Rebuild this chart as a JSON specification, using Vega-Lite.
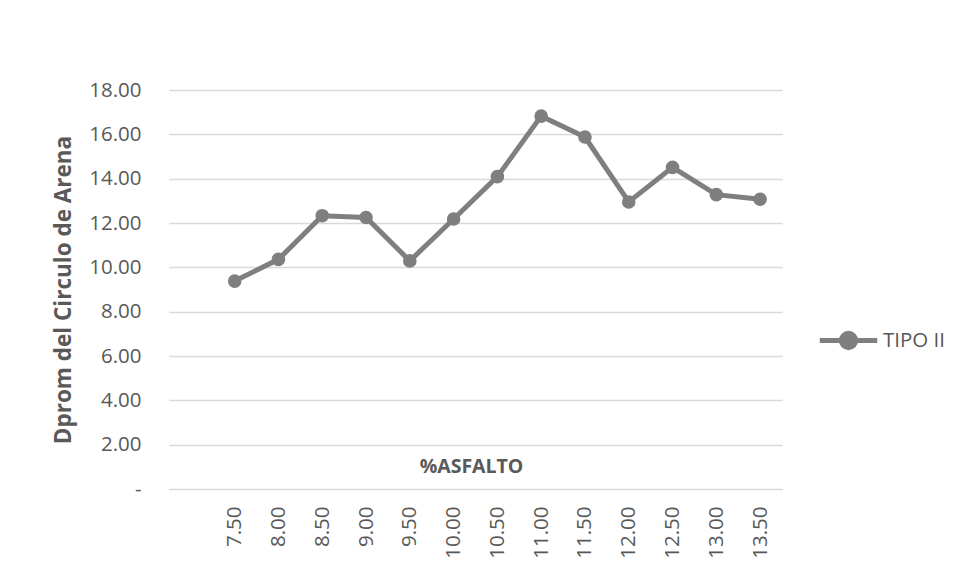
{
  "$schema": "https://vega.github.io/schema/vega-lite/v6.json",
  "width": 613,
  "height": 399,
  "autosize": {"type": "none"},
  "padding": {"left": 169, "top": 90, "right": 174, "bottom": 94},
  "background": "white",
  "config": {"view": {"stroke": null}, "font": "Open Sans"},
  "data": {
    "values": [
      {"asfalto": 7.5, "dprom": 9.38, "serie": "TIPO II"},
      {"asfalto": 8.0, "dprom": 10.36, "serie": "TIPO II"},
      {"asfalto": 8.5, "dprom": 12.33, "serie": "TIPO II"},
      {"asfalto": 9.0, "dprom": 12.25, "serie": "TIPO II"},
      {"asfalto": 9.5, "dprom": 10.29, "serie": "TIPO II"},
      {"asfalto": 10.0, "dprom": 12.18, "serie": "TIPO II"},
      {"asfalto": 10.5, "dprom": 14.09, "serie": "TIPO II"},
      {"asfalto": 11.0, "dprom": 16.82, "serie": "TIPO II"},
      {"asfalto": 11.5, "dprom": 15.88, "serie": "TIPO II"},
      {"asfalto": 12.0, "dprom": 12.95, "serie": "TIPO II"},
      {"asfalto": 12.5, "dprom": 14.51, "serie": "TIPO II"},
      {"asfalto": 13.0, "dprom": 13.28, "serie": "TIPO II"},
      {"asfalto": 13.5, "dprom": 13.07, "serie": "TIPO II"}
    ]
  },
  "mark": {
    "type": "line",
    "strokeWidth": 5,
    "point": {"filled": true, "size": 185, "opacity": 1}
  },
  "encoding": {
    "x": {
      "field": "asfalto",
      "type": "quantitative",
      "scale": {"domain": [6.75, 13.75], "nice": false, "zero": false},
      "axis": {
        "values": [7.5, 8, 8.5, 9, 9.5, 10, 10.5, 11, 11.5, 12, 12.5, 13, 13.5],
        "format": ".2f",
        "labelAngle": 270,
        "labelAlign": "right",
        "labelBaseline": "middle",
        "labelPadding": 17,
        "labelFontSize": 20.5,
        "labelColor": "#595959",
        "grid": false,
        "ticks": false,
        "domain": false,
        "title": "%ASFALTO",
        "titleFontSize": 19.5,
        "titleFontWeight": "bold",
        "titleColor": "#595959",
        "titleBaseline": "middle",
        "titleY": -23,
        "titleX": 302
      }
    },
    "y": {
      "field": "dprom",
      "type": "quantitative",
      "scale": {"domain": [0, 18], "nice": false},
      "axis": {
        "values": [0, 2, 4, 6, 8, 10, 12, 14, 16, 18],
        "labelExpr": "datum.value == 0 ? '-' : format(datum.value, '.2f')",
        "labelFontSize": 20.5,
        "labelColor": "#595959",
        "labelPadding": 28,
        "ticks": false,
        "domain": false,
        "gridColor": "#d9d9d9",
        "gridWidth": 1.5,
        "title": "Dprom del Circulo de Arena",
        "titleFontSize": 22.5,
        "titleFontWeight": "bold",
        "titleColor": "#595959",
        "titlePadding": 13
      }
    },
    "color": {
      "field": "serie",
      "type": "nominal",
      "scale": {"range": ["#7f7f7f"]},
      "legend": {
        "title": null,
        "orient": "none",
        "legendX": 648,
        "legendY": 219,
        "symbolType": "M-1,0L1,0M-0.25,0A0.25,0.25,0,1,1,0.25,0A0.25,0.25,0,1,1,-0.25,0Z",
        "symbolSize": 3300,
        "symbolStrokeWidth": 5,
        "symbolFillColor": "#7f7f7f",
        "symbolStrokeColor": "#7f7f7f",
        "labelFontSize": 20.5,
        "labelColor": "#595959",
        "labelOffset": 3
      }
    }
  }
}
